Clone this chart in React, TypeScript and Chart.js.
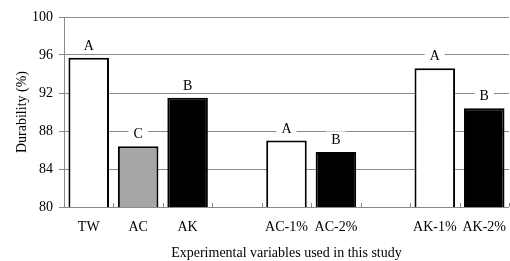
import React, { useEffect, useRef } from "react";
import { Chart, registerables } from "chart.js";

Chart.register(...registerables);

const categories = ["TW", "AC", "AK", "", "AC-1%", "AC-2%", "", "AK-1%", "AK-2%"];
const durability: (number | null)[] = [95.7, 86.4, 91.5, null, 87.0, 85.8, null, 94.6, 90.4];
const groupLetters = ["A", "C", "B", "", "A", "B", "", "A", "B"];
const barColors = ["#ffffff", "#a6a6a6", "#000000", "#ffffff", "#ffffff", "#000000", "#ffffff", "#ffffff", "#000000"];
const yTicks = [80, 84, 88, 92, 96, 100];

const FONT = "'Liberation Serif', 'Times New Roman', serif";
const GRID = "#8a8a8a";

const letterPlugin = {
  id: "letters",
  afterDatasetsDraw(chart: any) {
    const ctx = chart.ctx;
    const meta = chart.getDatasetMeta(0);
    ctx.save();
    ctx.font = `14px ${FONT}`;
    ctx.textAlign = "center";
    ctx.textBaseline = "middle";
    meta.data.forEach((el: any, i: number) => {
      const letter = groupLetters[i];
      if (!letter || durability[i] == null) return;
      const x = el.x;
      const y = el.y - 12.5;
      const w = ctx.measureText(letter).width + 10;
      ctx.fillStyle = "#ffffff";
      ctx.fillRect(x - w / 2, y - 8, w, 15);
      ctx.fillStyle = "#000000";
      ctx.fillText(letter, x, y + 1);
    });
    ctx.restore();
  },
  afterDraw(chart: any) {
    const ctx = chart.ctx;
    const { left, right, bottom } = chart.chartArea;
    const n = categories.length;
    const step = (right - left) / n;
    ctx.save();
    ctx.strokeStyle = GRID;
    ctx.lineWidth = 1;
    for (let i = 0; i <= n; i++) {
      const x = Math.round(left + i * step) + 0.5;
      ctx.beginPath();
      ctx.moveTo(x, bottom);
      ctx.lineTo(x, bottom - 4);
      ctx.stroke();
    }
    ctx.restore();
  },
};

export default function App() {
  const ref = useRef<HTMLCanvasElement>(null);
  useEffect(() => {
    document.body.style.margin = "0";
    const chart = new Chart(ref.current!, {
      type: "bar",
      data: {
        labels: categories,
        datasets: [
          {
            data: durability,
            backgroundColor: barColors,
            borderColor: "#000000",
            borderWidth: 2,
            borderSkipped: false,
            categoryPercentage: 1,
            barPercentage: 0.82,
          },
        ],
      },
      options: {
        animation: false,
        responsive: false,
        layout: { padding: { top: 17, right: 0, bottom: 0, left: 0 } },
        plugins: { legend: { display: false }, tooltip: { enabled: false } },
        scales: {
          x: {
            offset: true,
            grid: { display: false },
            border: { display: true, color: GRID, width: 1 },
            ticks: { color: "#000", font: { family: FONT, size: 14 }, padding: 4, maxRotation: 0, autoSkip: false },
            title: {
              display: true,
              text: "Experimental variables used in this study",
              color: "#000",
              font: { family: FONT, size: 14 },
              padding: { top: 4, bottom: -1 },
            },
            afterFit(scale: any) {
              scale.height = 54;
            },
          },
          y: {
            min: 80,
            max: 100,
            afterBuildTicks(scale: any) {
              scale.ticks = yTicks.map((v) => ({ value: v }));
            },
            grid: { color: GRID, lineWidth: 1, tickLength: 5, drawTicks: true },
            border: { display: true, color: GRID, width: 1 },
            ticks: { color: "#000", font: { family: FONT, size: 14 }, padding: 6 },
            title: {
              display: true,
              text: "Durability (%)",
              color: "#000",
              font: { family: FONT, size: 14 },
              padding: { top: 14, bottom: 4 },
            },
            afterFit(scale: any) {
              scale.width = 64;
            },
          },
        },
      },
      plugins: [letterPlugin],
    });
    return () => chart.destroy();
  }, []);
  return <canvas ref={ref} width={510} height={261} style={{ display: "block" }} />;
}
